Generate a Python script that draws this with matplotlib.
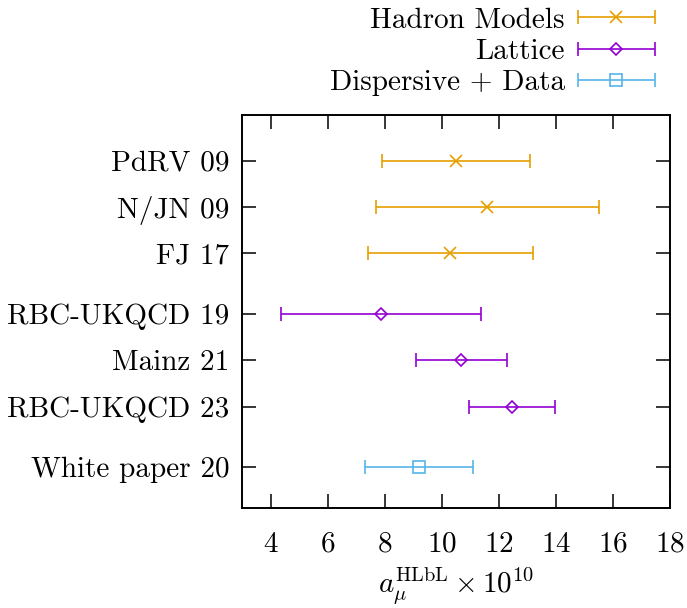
import numpy as np
import matplotlib
matplotlib.use('Agg')
import matplotlib.pyplot as plt
from matplotlib.legend_handler import HandlerErrorbar

plt.rcParams['font.family'] = 'cmr10'
plt.rcParams['mathtext.fontset'] = 'cm'
plt.rcParams['axes.formatter.use_mathtext'] = True
plt.rcParams['axes.unicode_minus'] = False

# données
groups = ['Hadron Models', 'Lattice', 'Dispersive + Data']
hadron_labels = ['PdRV 09', 'N/JN 09', 'FJ 17']
hadron_vals = [10.5, 11.6, 10.3]
hadron_errs = [2.6, 3.9, 2.9]
lattice_labels = ['RBC-UKQCD 19', 'Mainz 21', 'RBC-UKQCD 23']
lattice_vals = [7.87, 10.68, 12.47]
lattice_errs = [3.5, 1.59, 1.51]
disp_labels = ['White paper 20']
disp_vals = [9.2]
disp_errs = [1.9]

colors = ['#E69F00', '#9400D3', '#56B4E9']
markers = ['x', 'D', 's']
msizes = [8, 6.5, 8.5]
fs = 21

fig = plt.figure(figsize=(6.87, 6.08), dpi=100)
ax = fig.add_axes([242/687, 1 - 508/608, (670-242)/687, (508-115)/608])

# positions verticales : pas de 1, espace supplémentaire entre les groupes
series = [(hadron_labels, hadron_vals, hadron_errs),
          (lattice_labels, lattice_vals, lattice_errs),
          (disp_labels, disp_vals, disp_errs)]
gap = 0.3
n_tot = sum(len(s[0]) for s in series)
y = n_tot - 1 + gap * (len(series) - 1)
all_labels, all_pos = [], []
for i, (labs, vals, errs) in enumerate(series):
    pos = []
    for lab in labs:
        pos.append(y)
        all_labels.append(lab)
        all_pos.append(y)
        y -= 1
    y -= gap
    ax.errorbar(vals, pos, xerr=errs, fmt=markers[i], color=colors[i],
                ms=msizes[i], mfc='none', mew=1.2, elinewidth=1.2,
                capsize=5, capthick=1.2, label=groups[i])

ax.set_xlim(3, 18)
ax.set_ylim(-0.88, all_pos[0] + 0.98)
ax.set_xticks(np.arange(4, 19, 2))
ax.set_yticks(all_pos)
ax.set_yticklabels(all_labels)
ax.tick_params(direction='in', length=10, width=1.1, labelsize=fs,
               top=True, right=True)
ax.tick_params(axis='x', pad=17)
ax.tick_params(axis='y', pad=9)
for sp in ax.spines.values():
    sp.set_linewidth(1.4)

ax.set_xlabel(r'$a_\mu^{\rm HLbL} \times 10^{10}$', fontsize=fs, labelpad=6)

hl = 2.65
ax.legend(loc='upper right', bbox_to_anchor=(658/687, 0.993),
          bbox_transform=fig.transFigure, frameon=False, markerfirst=False,
          fontsize=fs, handlelength=hl, handletextpad=0.45,
          labelspacing=0.17, borderpad=0.1, borderaxespad=0,
          handler_map={type(ax.containers[0]): HandlerErrorbar(xerr_size=hl / 2)})

fig.savefig('out.png', dpi=100)
